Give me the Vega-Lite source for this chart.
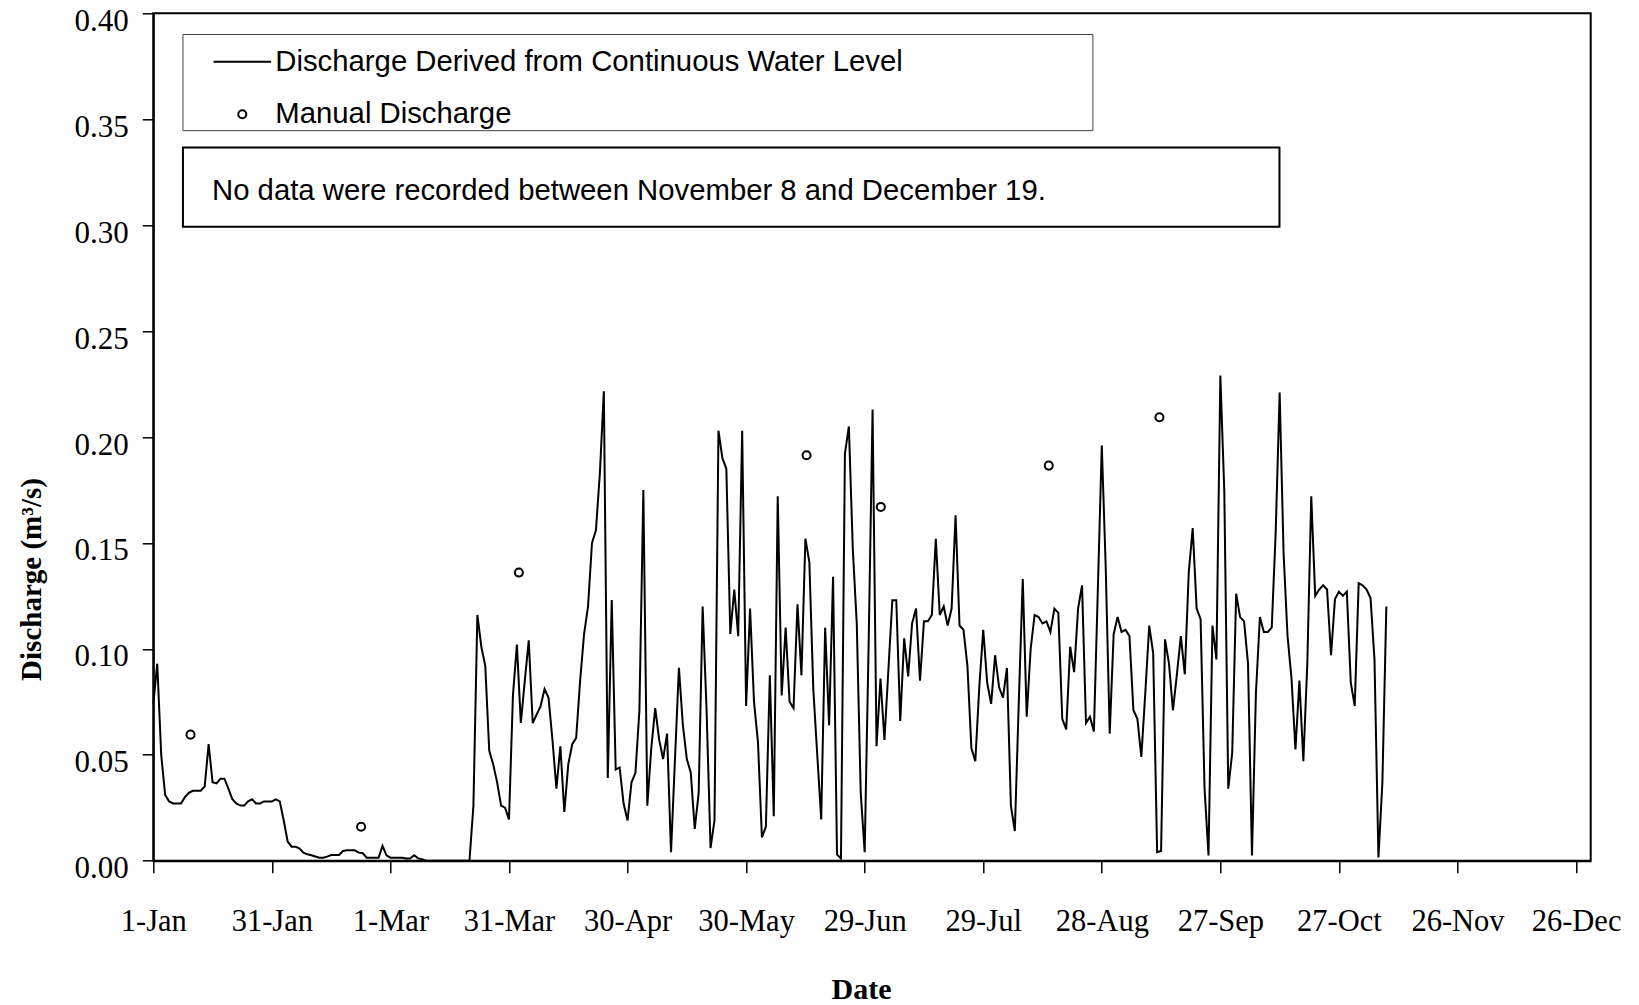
{
"$schema":"https://vega.github.io/schema/vega-lite/v6.json",
"width":1437.4,"height":847.4,
"autosize":{"type":"none"},
"padding":{"left":153.3,"top":13.3,"right":48.3,"bottom":144.3},
"background":"white",
"datasets":{
"flow":[
{"date":"2004/01/01","q":0.074},{"date":"2004/01/02","q":0.093},{"date":"2004/01/03","q":0.05},{"date":"2004/01/04","q":0.031},{"date":"2004/01/05","q":0.028},{"date":"2004/01/06","q":0.027},{"date":"2004/01/07","q":0.027},{"date":"2004/01/08","q":0.027},{"date":"2004/01/09","q":0.030},{"date":"2004/01/10","q":0.032},{"date":"2004/01/11","q":0.033},{"date":"2004/01/12","q":0.033},{"date":"2004/01/13","q":0.033},{"date":"2004/01/14","q":0.035},{"date":"2004/01/15","q":0.055},{"date":"2004/01/16","q":0.037},{"date":"2004/01/17","q":0.0365},{"date":"2004/01/18","q":0.0387},{"date":"2004/01/19","q":0.0387},{"date":"2004/01/20","q":0.034},{"date":"2004/01/21","q":0.029},{"date":"2004/01/22","q":0.027},{"date":"2004/01/23","q":0.026},{"date":"2004/01/24","q":0.026},{"date":"2004/01/25","q":0.028},{"date":"2004/01/26","q":0.029},{"date":"2004/01/27","q":0.027},{"date":"2004/01/28","q":0.027},{"date":"2004/01/29","q":0.028},{"date":"2004/01/30","q":0.028},{"date":"2004/01/31","q":0.028},
{"date":"2004/02/01","q":0.029},{"date":"2004/02/02","q":0.028},{"date":"2004/02/03","q":0.019},{"date":"2004/02/04","q":0.009},{"date":"2004/02/05","q":0.0066},{"date":"2004/02/06","q":0.0066},{"date":"2004/02/07","q":0.0057},{"date":"2004/02/08","q":0.0038},{"date":"2004/02/09","q":0.003},{"date":"2004/02/10","q":0.0026},{"date":"2004/02/11","q":0.002},{"date":"2004/02/12","q":0.0014},{"date":"2004/02/13","q":0.0014},{"date":"2004/02/14","q":0.0019},{"date":"2004/02/15","q":0.0027},{"date":"2004/02/16","q":0.0027},{"date":"2004/02/17","q":0.0027},{"date":"2004/02/18","q":0.0046},{"date":"2004/02/19","q":0.0049},{"date":"2004/02/20","q":0.0049},{"date":"2004/02/21","q":0.0049},{"date":"2004/02/22","q":0.0038},{"date":"2004/02/23","q":0.0035},{"date":"2004/02/24","q":0.0014},{"date":"2004/02/25","q":0.0014},{"date":"2004/02/26","q":0.0014},{"date":"2004/02/27","q":0.0014},{"date":"2004/02/28","q":0.007},{"date":"2004/02/29","q":0.0025},
{"date":"2004/03/01","q":0.0014},{"date":"2004/03/02","q":0.0014},{"date":"2004/03/03","q":0.0014},{"date":"2004/03/04","q":0.0014},{"date":"2004/03/05","q":0.001},{"date":"2004/03/06","q":0.001},{"date":"2004/03/07","q":0.0026},{"date":"2004/03/08","q":0.0011},{"date":"2004/03/09","q":0.0007},{"date":"2004/03/10","q":0},{"date":"2004/03/11","q":0},{"date":"2004/03/12","q":0},{"date":"2004/03/13","q":0},{"date":"2004/03/14","q":0},{"date":"2004/03/15","q":0},{"date":"2004/03/16","q":0},{"date":"2004/03/17","q":0},{"date":"2004/03/18","q":0},{"date":"2004/03/19","q":0},{"date":"2004/03/20","q":0},{"date":"2004/03/21","q":0},{"date":"2004/03/22","q":0.026},{"date":"2004/03/23","q":0.116},{"date":"2004/03/24","q":0.101},{"date":"2004/03/25","q":0.092},{"date":"2004/03/26","q":0.052},{"date":"2004/03/27","q":0.0455},{"date":"2004/03/28","q":0.037},{"date":"2004/03/29","q":0.026},{"date":"2004/03/30","q":0.025},{"date":"2004/03/31","q":0.0195},
{"date":"2004/04/01","q":0.078},{"date":"2004/04/02","q":0.102},{"date":"2004/04/03","q":0.065},{"date":"2004/04/04","q":0.085},{"date":"2004/04/05","q":0.104},{"date":"2004/04/06","q":0.065},{"date":"2004/04/07","q":0.069},{"date":"2004/04/08","q":0.073},{"date":"2004/04/09","q":0.081},{"date":"2004/04/10","q":0.077},{"date":"2004/04/11","q":0.057},{"date":"2004/04/12","q":0.034},{"date":"2004/04/13","q":0.054},{"date":"2004/04/14","q":0.023},{"date":"2004/04/15","q":0.0455},{"date":"2004/04/16","q":0.055},{"date":"2004/04/17","q":0.058},{"date":"2004/04/18","q":0.085},{"date":"2004/04/19","q":0.107},{"date":"2004/04/20","q":0.120},{"date":"2004/04/21","q":0.150},{"date":"2004/04/22","q":0.156},{"date":"2004/04/23","q":0.183},{"date":"2004/04/24","q":0.2216},{"date":"2004/04/25","q":0.039},{"date":"2004/04/26","q":0.123},{"date":"2004/04/27","q":0.043},{"date":"2004/04/28","q":0.044},{"date":"2004/04/29","q":0.027},{"date":"2004/04/30","q":0.019},
{"date":"2004/05/01","q":0.037},{"date":"2004/05/02","q":0.0415},{"date":"2004/05/03","q":0.071},{"date":"2004/05/04","q":0.175},{"date":"2004/05/05","q":0.026},{"date":"2004/05/06","q":0.053},{"date":"2004/05/07","q":0.072},{"date":"2004/05/08","q":0.057},{"date":"2004/05/09","q":0.048},{"date":"2004/05/10","q":0.060},{"date":"2004/05/11","q":0.004},{"date":"2004/05/12","q":0.048},{"date":"2004/05/13","q":0.091},{"date":"2004/05/14","q":0.064},{"date":"2004/05/15","q":0.048},{"date":"2004/05/16","q":0.0415},{"date":"2004/05/17","q":0.015},{"date":"2004/05/18","q":0.032},{"date":"2004/05/19","q":0.120},{"date":"2004/05/20","q":0.071},{"date":"2004/05/21","q":0.006},{"date":"2004/05/22","q":0.019},{"date":"2004/05/23","q":0.203},{"date":"2004/05/24","q":0.190},{"date":"2004/05/25","q":0.185},{"date":"2004/05/26","q":0.107},{"date":"2004/05/27","q":0.128},{"date":"2004/05/28","q":0.106},{"date":"2004/05/29","q":0.203},{"date":"2004/05/30","q":0.073},{"date":"2004/05/31","q":0.119},
{"date":"2004/06/01","q":0.075},{"date":"2004/06/02","q":0.056},{"date":"2004/06/03","q":0.011},{"date":"2004/06/04","q":0.016},{"date":"2004/06/05","q":0.0875},{"date":"2004/06/06","q":0.021},{"date":"2004/06/07","q":0.172},{"date":"2004/06/08","q":0.078},{"date":"2004/06/09","q":0.110},{"date":"2004/06/10","q":0.075},{"date":"2004/06/11","q":0.072},{"date":"2004/06/12","q":0.121},{"date":"2004/06/13","q":0.0875},{"date":"2004/06/14","q":0.152},{"date":"2004/06/15","q":0.141},{"date":"2004/06/16","q":0.081},{"date":"2004/06/17","q":0.05},{"date":"2004/06/18","q":0.0195},{"date":"2004/06/19","q":0.110},{"date":"2004/06/20","q":0.064},{"date":"2004/06/21","q":0.134},{"date":"2004/06/22","q":0.003},{"date":"2004/06/23","q":0.001},{"date":"2004/06/24","q":0.192},{"date":"2004/06/25","q":0.205},{"date":"2004/06/26","q":0.147},{"date":"2004/06/27","q":0.112},{"date":"2004/06/28","q":0.032},{"date":"2004/06/29","q":0.004},{"date":"2004/06/30","q":0.102},
{"date":"2004/07/01","q":0.213},{"date":"2004/07/02","q":0.054},{"date":"2004/07/03","q":0.086},{"date":"2004/07/04","q":0.057},{"date":"2004/07/05","q":0.09},{"date":"2004/07/06","q":0.123},{"date":"2004/07/07","q":0.123},{"date":"2004/07/08","q":0.066},{"date":"2004/07/09","q":0.105},{"date":"2004/07/10","q":0.087},{"date":"2004/07/11","q":0.112},{"date":"2004/07/12","q":0.119},{"date":"2004/07/13","q":0.085},{"date":"2004/07/14","q":0.113},{"date":"2004/07/15","q":0.113},{"date":"2004/07/16","q":0.116},{"date":"2004/07/17","q":0.152},{"date":"2004/07/18","q":0.116},{"date":"2004/07/19","q":0.120},{"date":"2004/07/20","q":0.111},{"date":"2004/07/21","q":0.119},{"date":"2004/07/22","q":0.163},{"date":"2004/07/23","q":0.111},{"date":"2004/07/24","q":0.109},{"date":"2004/07/25","q":0.092},{"date":"2004/07/26","q":0.053},{"date":"2004/07/27","q":0.047},{"date":"2004/07/28","q":0.082},{"date":"2004/07/29","q":0.109},{"date":"2004/07/30","q":0.084},{"date":"2004/07/31","q":0.074},
{"date":"2004/08/01","q":0.097},{"date":"2004/08/02","q":0.082},{"date":"2004/08/03","q":0.077},{"date":"2004/08/04","q":0.091},{"date":"2004/08/05","q":0.026},{"date":"2004/08/06","q":0.014},{"date":"2004/08/07","q":0.075},{"date":"2004/08/08","q":0.133},{"date":"2004/08/09","q":0.068},{"date":"2004/08/10","q":0.1},{"date":"2004/08/11","q":0.116},{"date":"2004/08/12","q":0.115},{"date":"2004/08/13","q":0.112},{"date":"2004/08/14","q":0.113},{"date":"2004/08/15","q":0.108},{"date":"2004/08/16","q":0.119},{"date":"2004/08/17","q":0.117},{"date":"2004/08/18","q":0.067},{"date":"2004/08/19","q":0.062},{"date":"2004/08/20","q":0.101},{"date":"2004/08/21","q":0.089},{"date":"2004/08/22","q":0.119},{"date":"2004/08/23","q":0.130},{"date":"2004/08/24","q":0.065},{"date":"2004/08/25","q":0.068},{"date":"2004/08/26","q":0.061},{"date":"2004/08/27","q":0.128},{"date":"2004/08/28","q":0.196},{"date":"2004/08/29","q":0.138},{"date":"2004/08/30","q":0.060},{"date":"2004/08/31","q":0.107},
{"date":"2004/09/01","q":0.115},{"date":"2004/09/02","q":0.108},{"date":"2004/09/03","q":0.109},{"date":"2004/09/04","q":0.106},{"date":"2004/09/05","q":0.071},{"date":"2004/09/06","q":0.067},{"date":"2004/09/07","q":0.049},{"date":"2004/09/08","q":0.079},{"date":"2004/09/09","q":0.111},{"date":"2004/09/10","q":0.098},{"date":"2004/09/11","q":0.004},{"date":"2004/09/12","q":0.0046},{"date":"2004/09/13","q":0.1045},{"date":"2004/09/14","q":0.093},{"date":"2004/09/15","q":0.071},{"date":"2004/09/16","q":0.088},{"date":"2004/09/17","q":0.106},{"date":"2004/09/18","q":0.088},{"date":"2004/09/19","q":0.136},{"date":"2004/09/20","q":0.157},{"date":"2004/09/21","q":0.119},{"date":"2004/09/22","q":0.114},{"date":"2004/09/23","q":0.034},{"date":"2004/09/24","q":0.0025},{"date":"2004/09/25","q":0.111},{"date":"2004/09/26","q":0.095},{"date":"2004/09/27","q":0.229},{"date":"2004/09/28","q":0.174},{"date":"2004/09/29","q":0.034},{"date":"2004/09/30","q":0.051},
{"date":"2004/10/01","q":0.126},{"date":"2004/10/02","q":0.115},{"date":"2004/10/03","q":0.113},{"date":"2004/10/04","q":0.093},{"date":"2004/10/05","q":0.0025},{"date":"2004/10/06","q":0.079},{"date":"2004/10/07","q":0.115},{"date":"2004/10/08","q":0.108},{"date":"2004/10/09","q":0.108},{"date":"2004/10/10","q":0.110},{"date":"2004/10/11","q":0.155},{"date":"2004/10/12","q":0.221},{"date":"2004/10/13","q":0.145},{"date":"2004/10/14","q":0.106},{"date":"2004/10/15","q":0.086},{"date":"2004/10/16","q":0.0525},{"date":"2004/10/17","q":0.085},{"date":"2004/10/18","q":0.047},{"date":"2004/10/19","q":0.093},{"date":"2004/10/20","q":0.172},{"date":"2004/10/21","q":0.125},{"date":"2004/10/22","q":0.128},{"date":"2004/10/23","q":0.130},{"date":"2004/10/24","q":0.128},{"date":"2004/10/25","q":0.097},{"date":"2004/10/26","q":0.1235},{"date":"2004/10/27","q":0.127},{"date":"2004/10/28","q":0.125},{"date":"2004/10/29","q":0.127},{"date":"2004/10/30","q":0.084},{"date":"2004/10/31","q":0.073},
{"date":"2004/11/01","q":0.131},{"date":"2004/11/02","q":0.130},{"date":"2004/11/03","q":0.128},{"date":"2004/11/04","q":0.124},{"date":"2004/11/05","q":0.095},{"date":"2004/11/06","q":0.0015},{"date":"2004/11/07","q":0.037},{"date":"2004/11/08","q":0.12}
],
"manual":[
{"date":"2004/01/10 10:00","q":0.0595},{"date":"2004/02/22 14:00","q":0.016},{"date":"2004/04/02 12:00","q":0.136},{"date":"2004/06/14 07:00","q":0.1914},{"date":"2004/07/03 02:00","q":0.167},{"date":"2004/08/14 14:00","q":0.1865},{"date":"2004/09/11 14:00","q":0.2093}
],
"note":[{"text":"No data were recorded between November 8 and December 19."}]
},
"layer":[
{"data":{"name":"note"},
 "mark":{"type":"rect","fill":"white","stroke":"#404040","strokeWidth":1},
 "encoding":{
  "x":{"datum":{"year":2004,"month":1,"date":8,"hours":12},"type":"temporal"},
  "x2":{"datum":{"year":2004,"month":8,"date":25,"hours":18}},
  "y":{"datum":0.39,"type":"quantitative"},
  "y2":{"datum":0.3446}}},
{"data":{"name":"note"},
 "mark":{"type":"rect","fill":"white","stroke":"black","strokeWidth":2},
 "encoding":{
  "x":{"datum":{"year":2004,"month":1,"date":8,"hours":12},"type":"temporal"},
  "x2":{"datum":{"year":2004,"month":10,"date":11,"hours":23}},
  "y":{"datum":0.3367,"type":"quantitative"},
  "y2":{"datum":0.2992}}},
{"data":{"name":"note"},
 "mark":{"type":"text","align":"left","baseline":"middle","font":"Liberation Sans","fontSize":29.3,"color":"black"},
 "encoding":{
  "x":{"datum":{"year":2004,"month":1,"date":15,"hours":20,"minutes":40},"type":"temporal"},
  "y":{"datum":0.316,"type":"quantitative"},
  "text":{"field":"text"}}},
{"data":{"name":"flow"},
 "mark":{"type":"line","strokeWidth":2,"interpolate":"linear"},
 "encoding":{
  "x":{"field":"date","type":"temporal",
   "scale":{"domain":[{"year":2004,"month":1,"date":1},{"year":2004,"month":12,"date":29,"hours":17}],"nice":false},
   "axis":{"title":"Date","format":"%-d-%b","labelFlush":false,"labelOverlap":false,
    "values":[{"year":2004,"month":1,"date":1},{"year":2004,"month":1,"date":31},{"year":2004,"month":3,"date":1},{"year":2004,"month":3,"date":31},{"year":2004,"month":4,"date":30},{"year":2004,"month":5,"date":30},{"year":2004,"month":6,"date":29},{"year":2004,"month":7,"date":29},{"year":2004,"month":8,"date":28},{"year":2004,"month":9,"date":27},{"year":2004,"month":10,"date":27},{"year":2004,"month":11,"date":26},{"year":2004,"month":12,"date":26}],
    "tickSize":12,"labelPadding":34,"labelFontSize":30.5,"titleFontSize":30,
    "titleX":707.7,"titleY":137.5,"titleBaseline":"alphabetic","titleAlign":"center"}},
  "y":{"field":"q","type":"quantitative",
   "scale":{"domain":[0,0.4],"nice":false,"zero":true},
   "axis":{"title":"Discharge (m³/s)","format":".2f","values":[0,0.05,0.1,0.15,0.2,0.25,0.3,0.35,0.4],
    "tickSize":11,"labelPadding":14,"labelOffset":8,"labelFontSize":31,"titleFontSize":29,
    "titleX":-121.6,"titleY":565.7,"titleBaseline":"middle","titleAlign":"center","titleAngle":270}},
  "color":{"datum":"Discharge Derived from Continuous Water Level","type":"nominal",
   "scale":{"domain":["Discharge Derived from Continuous Water Level","Manual Discharge"],"range":["black","black"]},
   "legend":{"title":null,"orient":"none","legendX":59,"legendY":18.5,"padding":0,
    "labelFont":"Liberation Sans","labelFontSize":29.3,"labelColor":"black","labelOffset":3,
    "symbolSize":3306,"rowPadding":6.5,"labelLimit":0,
    "encode":{"symbols":{"update":{
      "shape":{"signal":"datum.value === 'Manual Discharge' ? 'circle' : 'stroke'"},
      "size":{"signal":"datum.value === 'Manual Discharge' ? 65 : 3306"},
      "stroke":{"value":"black"},"strokeWidth":{"value":2},
      "fill":{"value":"transparent"},"opacity":{"value":1}}}}}}}},
{"data":{"name":"manual"},
 "mark":{"type":"point","filled":false,"size":65,"strokeWidth":2,"opacity":1},
 "encoding":{
  "x":{"field":"date","type":"temporal"},
  "y":{"field":"q","type":"quantitative"},
  "color":{"datum":"Manual Discharge","type":"nominal"}}}
],
"config":{
 "view":{"stroke":"black","strokeWidth":2},
 "axis":{"grid":false,"domainColor":"black","domainWidth":2,"tickColor":"black","tickWidth":1.5,
  "labelColor":"black","titleColor":"black","labelFont":"Liberation Serif","titleFont":"Liberation Serif","titleFontWeight":"bold"}
}
}
